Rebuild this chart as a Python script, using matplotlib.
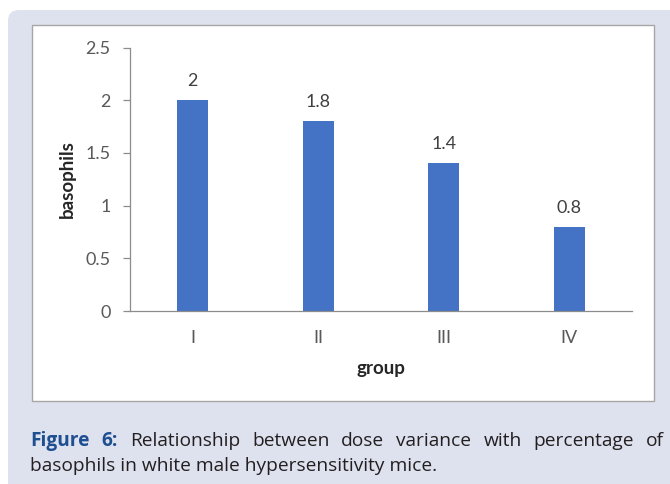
import matplotlib.pyplot as plt
import numpy as np
from matplotlib.patches import FancyBboxPatch, Rectangle

groups = ["I", "II", "III", "IV"]
basophils = [2, 1.8, 1.4, 0.8]
yticks = [0, 0.5, 1, 1.5, 2, 2.5]

caption_bold = ["Figure", "6:"]
caption_line1 = ["Relationship", "between", "dose", "variance", "with", "percentage", "of"]
caption_line2 = "basophils in white male hypersensitivity mice."

W, H = 670, 484
fig = plt.figure(figsize=(W / 100, H / 100), dpi=100)
fig.patch.set_facecolor("white")

# background layer in pixel coords (y downwards)
bg = fig.add_axes([0, 0, 1, 1])
bg.set_xlim(0, W)
bg.set_ylim(H, 0)
bg.axis("off")
bg.add_patch(FancyBboxPatch((8, 10), 700, 520, boxstyle="round,pad=0,rounding_size=11",
                            facecolor="#dee1ee", edgecolor="none"))
bg.add_patch(Rectangle((32, 25), 622, 376, facecolor="white", edgecolor="#a6a6a6", lw=1.0))

# chart
ax = fig.add_axes([130 / W, (H - 311) / H, 502 / W, (311 - 47.5) / H])
ax.set_facecolor("white")
x = np.arange(len(groups))
ax.bar(x, basophils, width=0.25, color="#4472c4", zorder=2)
for xi, v in zip(x, basophils):
    ax.annotate(f"{v:g}", (xi, v), xytext=(0, 8), textcoords="offset points",
                ha="center", va="bottom", fontsize=13, color="#404040", family="Lato")

ax.set_xlim(-0.5, 3.5)
ax.set_ylim(0, 2.5)
ax.set_yticks(yticks)
ax.set_yticklabels([f"{t:g}" for t in yticks])
ax.set_xticks(x)
ax.set_xticklabels(groups)
for s in ["top", "right"]:
    ax.spines[s].set_visible(False)
for s in ["left", "bottom"]:
    ax.spines[s].set_color("#8c8c8c")
    ax.spines[s].set_linewidth(0.9)
ax.tick_params(axis="y", length=5, width=0.9, color="#8c8c8c", pad=9,
               labelsize=13, labelcolor="#595959")
ax.tick_params(axis="x", length=0, pad=14, labelsize=13, labelcolor="#595959")
for lab in ax.get_xticklabels() + ax.get_yticklabels():
    lab.set_family("Lato")
ax.set_ylabel("basophils", fontsize=13.5, fontweight="bold", color="#262626",
              family="Lato", labelpad=7)
ax.set_xlabel("group", fontsize=13.5, fontweight="bold", color="#262626",
              family="Lato", labelpad=10)

# caption, first line justified between x=30 and x=664
cap_fs = 12.5
words = []
for w in caption_bold:
    words.append(bg.text(0, 446, w, fontsize=cap_fs, fontweight="bold", color="#1d4f91",
                         family="Open Sans", va="baseline", ha="left"))
for w in caption_line1:
    words.append(bg.text(0, 446, w, fontsize=cap_fs, color="#231f20",
                         family="Open Sans", va="baseline", ha="left"))
line2 = bg.text(30, 471, caption_line2, fontsize=cap_fs, color="#231f20",
                family="Open Sans", va="baseline", ha="left")

fig.canvas.draw()
r = fig.canvas.get_renderer()
# size the caption so that the second line ends where it does in the original
cap_fs = cap_fs * 407 / line2.get_window_extent(r).width
for t in words + [line2]:
    t.set_fontsize(cap_fs)
fig.canvas.draw()
widths = [t.get_window_extent(r).width for t in words]
gap = (664 - 30 - sum(widths)) / (len(words) - 1)
pos = 30
for t, wd in zip(words, widths):
    t.set_x(pos)
    pos += wd + gap

fig.savefig("out.png", dpi=100)
